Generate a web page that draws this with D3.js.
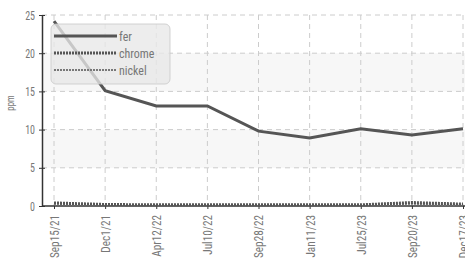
<!DOCTYPE html>
<html><head><meta charset="utf-8">
<script src="https://cdn.jsdelivr.net/npm/d3@7"></script>
<style>
body{margin:0;background:#fff;}
text{font-family:"Liberation Sans Narrow","Roboto Condensed","Arial Narrow",Roboto,sans-serif;}
</style></head>
<body><svg id="c" width="465" height="269"></svg>
<script>
const categories = ["Sep15/21","Dec1/21","Apr12/22","Jul10/22","Sep28/22","Jan11/23","Jul25/23","Sep20/23","Dec17/23"];
const fer    = [24.2, 15.1, 13.1, 13.1, 9.8, 8.9, 10.1, 9.3, 10.1];
const chrome = [0.4, 0.2, 0.15, 0.15, 0.15, 0.15, 0.15, 0.45, 0.25];
const nickel = [0.3, 0.1, 0.1, 0.1, 0.1, 0.1, 0.1, 0.3, 0.1];
const yTicks = [0,5,10,15,20,25];
const seriesNames = ["fer","chrome","nickel"];

const svg = d3.select("#c");
const mLeft = 42, mTop = 15, mBottom = 206;
const x = d3.scalePoint().domain(categories).range([54, 463]);
const y = d3.scaleLinear().domain([0,25]).range([mBottom, mTop]);

const bands = [[5,10],[15,20]];
svg.selectAll("rect.band").data(bands).enter().append("rect")
  .attr("x", mLeft).attr("width", 465-mLeft)
  .attr("y", d=>y(d[1])).attr("height", d=>y(d[0])-y(d[1]))
  .attr("fill","#f7f7f7");

svg.selectAll("line.hg").data(yTicks.slice(1)).enter().append("line")
  .attr("x1", mLeft).attr("x2", 465).attr("y1", d=>y(d)).attr("y2", d=>y(d))
  .attr("stroke","#ccc").attr("stroke-dasharray","5,4");
svg.selectAll("line.vg").data(categories).enter().append("line")
  .attr("x1", d=>x(d)).attr("x2", d=>x(d)).attr("y1", mTop).attr("y2", mBottom)
  .attr("stroke","#ccc").attr("stroke-dasharray","5,4");

const yAxis = svg.append("g").attr("transform",`translate(${mLeft},0)`)
  .call(d3.axisLeft(y).tickValues(yTicks).tickSizeInner(3).tickSizeOuter(0));
yAxis.select(".domain").attr("stroke","#333").attr("stroke-width",1.5);
yAxis.selectAll(".tick line").attr("stroke","#333").attr("x2",3).attr("x1",-3);
yAxis.selectAll(".tick text").attr("fill","#777").attr("font-size",12.5)
  .attr("transform",`translate(-7,0) scale(0.8,1)`).attr("x",0);

const xAxis = svg.append("g").attr("transform",`translate(0,${mBottom})`)
  .call(d3.axisBottom(x).tickSizeInner(3).tickSizeOuter(0));
xAxis.select(".domain").attr("stroke","#333").attr("stroke-width",1.5).attr("d",`M${mLeft},0H465`);
xAxis.selectAll(".tick line").attr("stroke","#333");
xAxis.selectAll(".tick text").attr("fill","#777").attr("font-size",12.5)
  .attr("transform",`translate(0,9) rotate(-90) scale(0.9,1)`).attr("text-anchor","end")
  .attr("x",0).attr("y",0).attr("dy","0.35em");

svg.append("text").attr("transform",`translate(14,103) rotate(-90) scale(0.8,1)`)
  .attr("text-anchor","middle").attr("fill","#777").attr("font-size",11).text("ppm");

const line = d3.line().x((d,i)=>x(categories[i])).y(d=>y(d));
const styles = {
  fer:{stroke:"#555", w:3, dash:null},
  chrome:{stroke:"#555", w:3, dash:"2,1"},
  nickel:{stroke:"#777", w:2, dash:"2,1"}
};
const data = {fer, chrome, nickel};
seriesNames.slice().reverse().forEach(n=>{
  svg.append("path").datum(data[n]).attr("d",line).attr("fill","none")
    .attr("stroke",styles[n].stroke).attr("stroke-width",styles[n].w)
    .attr("stroke-dasharray",styles[n].dash);
});

const lg = svg.append("g");
lg.append("rect").attr("x",51).attr("y",24).attr("width",119).attr("height",60).attr("rx",5)
  .attr("fill","rgba(232,232,232,0.78)").attr("stroke","rgba(200,200,200,0.8)");
seriesNames.forEach((n,i)=>{
  const yy = 36 + i*17;
  lg.append("line").attr("x1",54).attr("x2",117).attr("y1",yy).attr("y2",yy)
    .attr("stroke",styles[n].stroke).attr("stroke-width",styles[n].w).attr("stroke-dasharray",styles[n].dash);
  lg.append("text").attr("transform",`translate(119,${yy}) scale(0.92,1)`).attr("dy","0.35em")
    .attr("fill","#777").attr("font-size",13).text(n);
});
</script></body></html>
